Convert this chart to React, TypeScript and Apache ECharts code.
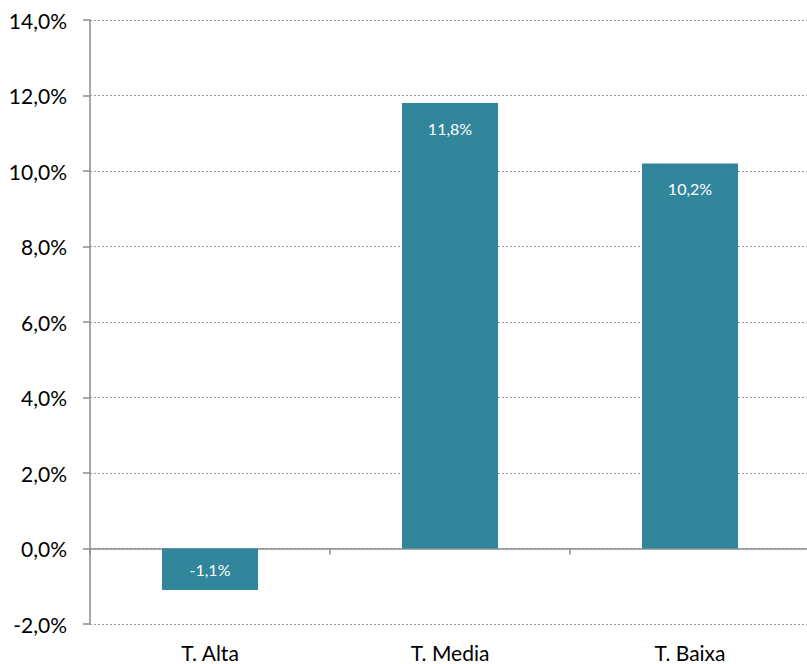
import React, { useEffect, useRef } from "react";
import * as echarts from "echarts";

const categories = ["T. Alta", "T. Media", "T. Baixa"];
const values = [-1.1, 11.8, 10.2];
const yMin = -2;
const yMax = 14;
const yInterval = 2;

const fmt = (v: number) => v.toFixed(1).replace(".", ",") + "%";

export default function App() {
  const ref = useRef<HTMLDivElement>(null);
  useEffect(() => {
    if (!ref.current) return;
    const chart = echarts.init(ref.current, null, { renderer: "svg" });
    const font = "Lato, 'Open Sans', sans-serif";
    chart.setOption({
      animation: false,
      grid: { left: 90, top: 20, width: 720, height: 604, containLabel: false, outerBoundsMode: "none" },
      xAxis: {
        type: "category",
        data: categories,
        axisLine: { onZero: true, lineStyle: { color: "#8c8c8c", width: 1.5 } },
        axisTick: { show: true, alignWithLabel: false, length: 6, lineStyle: { color: "#8c8c8c", width: 1.5 } },
        axisLabel: { margin: 17, color: "#000", fontSize: 21, lineHeight: 22, fontFamily: font },
        splitLine: { show: false },
      },
      yAxis: {
        type: "value",
        min: yMin,
        max: yMax,
        interval: yInterval,
        axisLine: { show: true, lineStyle: { color: "#8c8c8c", width: 1.5 } },
        axisTick: { show: true, length: 7, lineStyle: { color: "#8c8c8c", width: 1.5 } },
        axisLabel: { margin: 23, color: "#000", fontSize: 21, fontFamily: font, formatter: (v: number) => fmt(v) },
        splitLine: { show: true, lineStyle: { color: "#9a9a9a", type: [2, 2], width: 1 } },
      },
      series: [
        {
          type: "bar",
          barWidth: 96,
          data: values.map((v) => ({
            value: v,
            label: v < 0 ? { position: "inside" } : { position: "insideTop", distance: 17 },
          })),
          itemStyle: { color: "#31869b" },
          label: {
            show: true,
            color: "#fff",
            fontSize: 16,
            fontFamily: font,
            formatter: (p: any) => fmt(p.value),
          },
        },
      ],
    });
    return () => chart.dispose();
  }, []);
  return (
    <div
      ref={ref}
      style={{ position: "absolute", left: 0, top: 0, width: 807, height: 664, background: "#fff" }}
    />
  );
}
